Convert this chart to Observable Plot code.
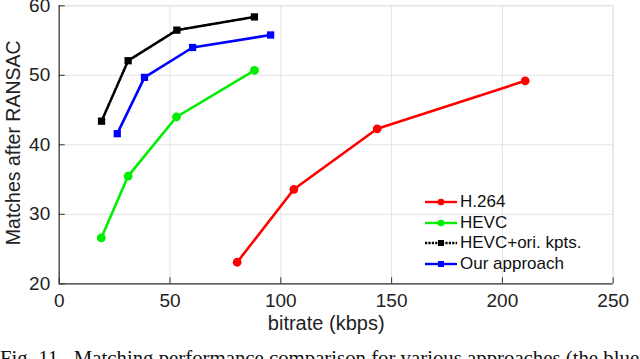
<!DOCTYPE html>
<html>
<head>
<meta charset="utf-8">
<script src="https://cdn.jsdelivr.net/npm/d3@7"></script>
<script src="https://cdn.jsdelivr.net/npm/@observablehq/plot@0.6"></script>
<style>
  html, body { margin: 0; padding: 0; background: #fff; overflow: hidden; }
  #wrap { position: relative; width: 640px; height: 359px; }
  #legend { position: absolute; left: 425px; top: 192px; font: 17px "Liberation Sans", Arial, sans-serif; color: #111; }
  #legend .row { display: flex; align-items: center; height: 20.6px; }
  #legend svg { margin-right: 2px; }
  #caption { position: absolute; left: 0px; top: 347px; font: 20.8px "Liberation Serif", "Times New Roman", serif; white-space: pre; line-height: 21px; color: #111; }
</style>
</head>
<body>
<div id="wrap">
  <div id="chart"></div>
  <div id="legend"></div>
  <div id="caption"></div>
</div>
<script>
// ---- data ----
const seriesNames = ["H.264", "HEVC", "HEVC+ori. kpts.", "Our approach"];
const seriesColors = ["#ff0000", "#00ee00", "#000000", "#0000ff"];
const seriesSymbols = ["circle", "circle", "square", "square"];
const seriesDash = [null, null, "2.2,1.2", null];

const h264X = [80.3, 105.9, 143.5, 210.3];
const h264Y = [23.1, 33.6, 42.3, 49.2];
const hevcX = [19.0, 31.1, 52.9, 88.1];
const hevcY = [26.6, 35.5, 44.0, 50.7];
const oriX = [19.1, 31.1, 53.1, 88.1];
const oriY = [43.4, 52.1, 56.5, 58.4];
const oursX = [26.2, 38.5, 60.2, 95.4];
const oursY = [41.6, 49.7, 54.0, 55.8];

const xTicks = [0, 50, 100, 150, 200, 250];
const yTicks = [20, 30, 40, 50, 60];
const xLabel = "bitrate (kbps)";
const yLabel = "Matches after RANSAC";
const captionText = "Fig. 11.  Matching performance comparison for various approaches (the blue";

// ---- build table ----
const xs = [h264X, hevcX, oriX, oursX];
const ys = [h264Y, hevcY, oriY, oursY];
const rows = [];
seriesNames.forEach((name, i) => {
  xs[i].forEach((x, j) => rows.push({series: name, x, y: ys[i][j], idx: i}));
});

const W = 640, H = 335;
const mL = 58.7, mR = 27.3, mT = 5.3, mB = 51.7;
const plotW = W - mL - mR, plotH = H - mT - mB;
const axisColor = "#333333";
const gridColor = "#e3e3e3";

const marks = [
  Plot.gridX(xTicks, {stroke: gridColor, strokeOpacity: 1, strokeWidth: 1}),
  Plot.gridY(yTicks, {stroke: gridColor, strokeOpacity: 1, strokeWidth: 1}),
  Plot.frame({stroke: gridColor, strokeWidth: 1}),
  Plot.axisX(xTicks, {tickSize: 0, tickPadding: 10, fill: "#222", fontSize: 19, label: null}),
  Plot.axisY(yTicks, {tickSize: 0, tickPadding: 9, fill: "#222", fontSize: 19, label: null}),
  Plot.tickX(xTicks, {x: d => d, insetTop: plotH - 6, stroke: axisColor}),
  Plot.tickY(yTicks, {y: d => d, insetRight: plotW - 6, stroke: axisColor}),
  Plot.ruleX([0], {stroke: axisColor, strokeWidth: 1.2}),
  Plot.ruleY([20], {stroke: axisColor, strokeWidth: 1.2}),
  Plot.text([xLabel], {text: d => d, frameAnchor: "bottom", dx: -10, dy: 46, fontSize: 20, fill: "#222"}),
  Plot.text([yLabel], {text: d => d, frameAnchor: "left", textAnchor: "middle", dx: -45, dy: -2, rotate: -90, fontSize: 19.5, fill: "#222"})
];
seriesNames.forEach((name, i) => {
  const data = rows.filter(r => r.idx === i);
  marks.push(Plot.line(data, {x: "x", y: "y", stroke: seriesColors[i], strokeWidth: 2.6, strokeDasharray: seriesDash[i] || undefined}));
  marks.push(Plot.dot(data, {x: "x", y: "y", fill: seriesColors[i], stroke: "none", symbol: seriesSymbols[i], r: seriesSymbols[i] === "circle" ? 4.4 : 4.1}));
});

const chart = Plot.plot({
  width: W, height: H,
  marginLeft: mL, marginRight: mR, marginTop: mT, marginBottom: mB,
  style: {fontFamily: "'Liberation Sans', Arial, sans-serif", fontSize: "19px", background: "#fff", overflow: "visible"},
  x: {domain: [0, 250]},
  y: {domain: [20, 60]},
  marks
});
document.getElementById("chart").appendChild(chart);

// ---- legend ----
const legend = document.getElementById("legend");
seriesNames.forEach((name, i) => {
  const row = document.createElement("div");
  row.className = "row";
  const sw = d3.create("svg").attr("width", 33).attr("height", 14);
  sw.append("line").attr("x1", 0).attr("x2", 32).attr("y1", 7).attr("y2", 7)
    .attr("stroke", seriesColors[i]).attr("stroke-width", 2.4)
    .attr("stroke-dasharray", seriesDash[i]);
  if (seriesSymbols[i] === "circle") {
    sw.append("circle").attr("cx", 16).attr("cy", 7).attr("r", 3.3).attr("fill", seriesColors[i]);
  } else {
    sw.append("rect").attr("x", 13).attr("y", 4).attr("width", 6).attr("height", 6).attr("fill", seriesColors[i]);
  }
  row.appendChild(sw.node());
  const t = document.createElement("span");
  t.textContent = name;
  row.appendChild(t);
  legend.appendChild(row);
});

document.getElementById("caption").textContent = captionText;
</script>
</body>
</html>
